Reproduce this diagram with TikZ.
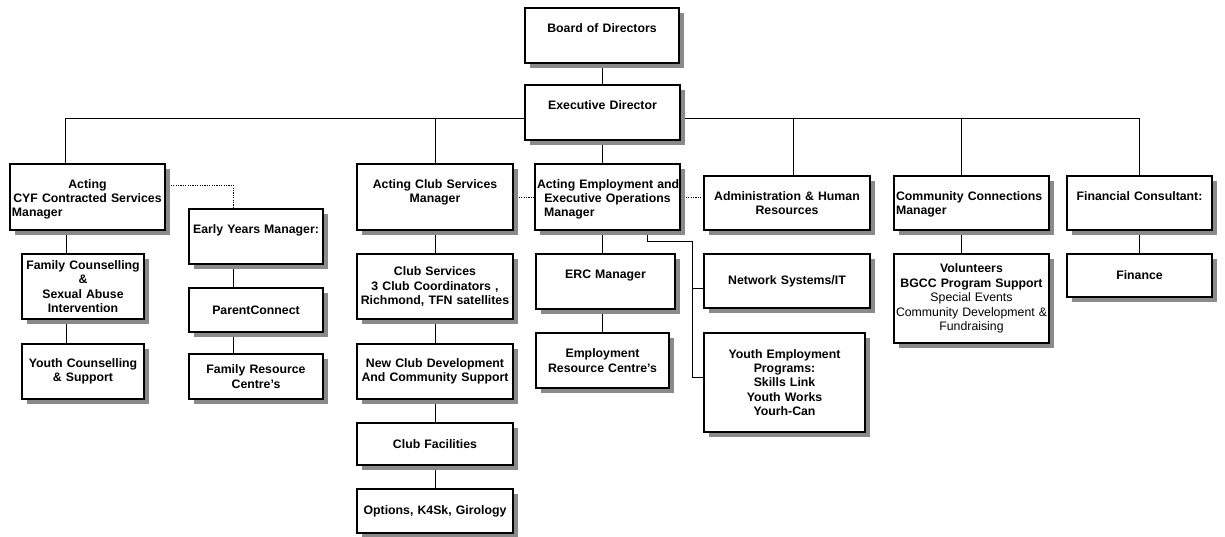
\documentclass[tikz,border=0pt]{standalone}
\usepackage{fontspec}
\setmainfont{Liberation Sans}
\usetikzlibrary{calc,shadows,backgrounds}

\newlength{\du}
\setlength{\du}{1pt}

\definecolor{dialinecolor}{rgb}{0.000000, 0.000000, 0.000000}
\definecolor{diashadecolor}{rgb}{0.540000, 0.540000, 0.540000}

\newcommand{\orgfont}{\fontsize{12.3}{14.4}\selectfont\bfseries\hyphenpenalty=10000}
\newcommand{\lft}[1]{\makebox[\linewidth][l]{#1}}

\tikzset{
  box/.style 2 args={draw=dialinecolor, line width=2\du, fill=white,
    drop shadow={shadow xshift=5\du, shadow yshift=-5\du, fill=diashadecolor, opacity=1},
    inner sep=0pt, anchor=north west, align=center, font=\orgfont,
    minimum width=#1\du, minimum height=#2\du, text width=#1\du-4\du},
  headbox/.style n args={3}{box={#1}{#2}, text height=24\du, text depth=#3\du},
  link/.style={draw=dialinecolor, line width=1\du},
  dotlink/.style={link, dash pattern=on 1.2\du off 1.2\du},
}

\begin{document}
\begin{tikzpicture}
\pgftransformxscale{1.000000}
\pgftransformyscale{-1.000000}
\useasboundingbox (0\du,0\du) rectangle (1225\du,536\du);
% board and director
\node[headbox={154}{55}{31}] (board) at (524\du,7\du) {Board of Directors};
\node[headbox={155}{55}{31}] (exec) at (524\du,84\du) {Executive Director};
% managers
\node[headbox={155}{66}{42}] (cyf) at (9\du,163\du) {Acting\\CYF Contracted Services\\\lft{Manager}};
\node[headbox={156}{66}{42}] (club) at (356\du,163\du) {Acting Club Services\\Manager};
\node[headbox={145}{66}{42}] (emp) at (534\du,163\du) {\mbox{Acting Employment and}\\Executive Operations\\\lft{\hspace{7\du}Manager}};
\node[headbox={166}{54}{30}] (admin) at (703\du,175\du) {Administration \& Human\\Resources};
\node[headbox={155}{54}{30}] (comm) at (893\du,175\du) {\lft{Community Connections}\\\lft{Manager}};
\node[headbox={145}{54}{30}] (fincon) at (1066\du,175\du) {Financial Consultant:};
\node[headbox={134}{55}{31}] (early) at (188\du,208\du) {Early Years Manager:};
\node[headbox={139}{55}{31}] (erc) at (535\du,253\du) {ERC Manager};
% services
\node[box={122}{65}] (famc) at (21\du,253\du) {Family Counselling\\\&\\Sexual Abuse\\Intervention};
\node[box={122}{55}] (youthc) at (21\du,343\du) {Youth Counselling\\\& Support};
\node[box={134}{44}] (parent) at (188\du,287\du) {ParentConnect};
\node[box={134}{45}] (famres) at (188\du,353\du) {Family Resource\\Centre's};
\node[box={156}{65}] (clubsv) at (356\du,253\du) {Club Services\\3 Club Coordinators ,\\Richmond, TFN satellites};
\node[box={156}{55}] (newclub) at (356\du,343\du) {New Club Development\\And Community Support};
\node[box={156}{42}] (facil) at (356\du,422\du) {Club Facilities};
\node[box={156}{44}] (options) at (356\du,488\du) {Options, K4Sk, Girology};
\node[box={133}{55}] (empres) at (535\du,332\du) {Employment\\Resource Centre's};
\node[box={166}{54}] (netsys) at (703\du,253\du) {Network Systems/IT};
\node[box={161}{99}] (youthemp) at (703\du,332\du) {Youth Employment\\Programs:\\Skills Link\\Youth Works\\Yourh-Can};
\node[box={155}{89}] (vol) at (893\du,253\du) {Volunteers\\BGCC Program Support\\\mdseries Special Events\\\mbox{Community Development \&}\\Fundraising};
\node[box={145}{43}] (finance) at (1066\du,253\du) {Finance};

\begin{pgfonlayer}{background}
\coordinate (bus) at (602\du,118\du);
\coordinate (spine) at (692\du,241\du);
\draw[link] (board.south) -- (board.south |- exec.north);
\draw[link] (exec.south) -- (exec.south |- emp.north);
% bus line
\draw[link] ($(cyf.north)+(-22.5\du,0)$) |- (bus);
\draw[link] (club.north) |- (bus);
\draw[link] ($(admin.north)+(6\du,0)$) |- (bus);
\draw[link] ($(comm.north)+(-10.5\du,0)$) |- (bus);
\draw[link] (fincon.north) |- (bus);
% left column
\draw[link] ($(cyf.south)+(-21.5\du,0)$) coordinate (cyfleg) -- (cyfleg |- famc.north);
\draw[link] (cyfleg |- famc.south) -- (cyfleg |- youthc.north);
\draw[link] ($(early.south)+(-23\du,0)$) coordinate (earlyleg) -- (earlyleg |- parent.north);
\draw[link] (earlyleg |- parent.south) -- (earlyleg |- famres.north);
\draw[dotlink] ($(cyf.east)+(0,-12\du)$) -| (earlyleg |- early.north);
% club column
\draw[link] (club.south) -- (clubsv.north);
\draw[link] (clubsv.south) -- (newclub.north);
\draw[link] (newclub.south) -- (facil.north);
\draw[link] (facil.south) -- (options.north);
\draw[dotlink] (club.east) -- (club.east -| emp.west);
\draw[dotlink] (emp.east) -- (emp.east -| admin.west);
% employment
\draw[link] (exec.south |- emp.south) -- (exec.south |- erc.north);
\draw[link] (exec.south |- erc.south) -- (exec.south |- empres.north);
\draw[link] ($(emp.south)+(39.5\du,0)$) |- (spine) |- ($(youthemp.west)+(0,-5.5\du)$);
\draw[link] (spine) |- ($(netsys.west)+(0,7\du)$);
% right side
\draw[link] ($(comm.south)+(-10.5\du,0)$) -- ($(vol.north)+(-10.5\du,0)$);
\draw[link] (fincon.south) -- (finance.north);
\end{pgfonlayer}
\end{tikzpicture}
\end{document}
